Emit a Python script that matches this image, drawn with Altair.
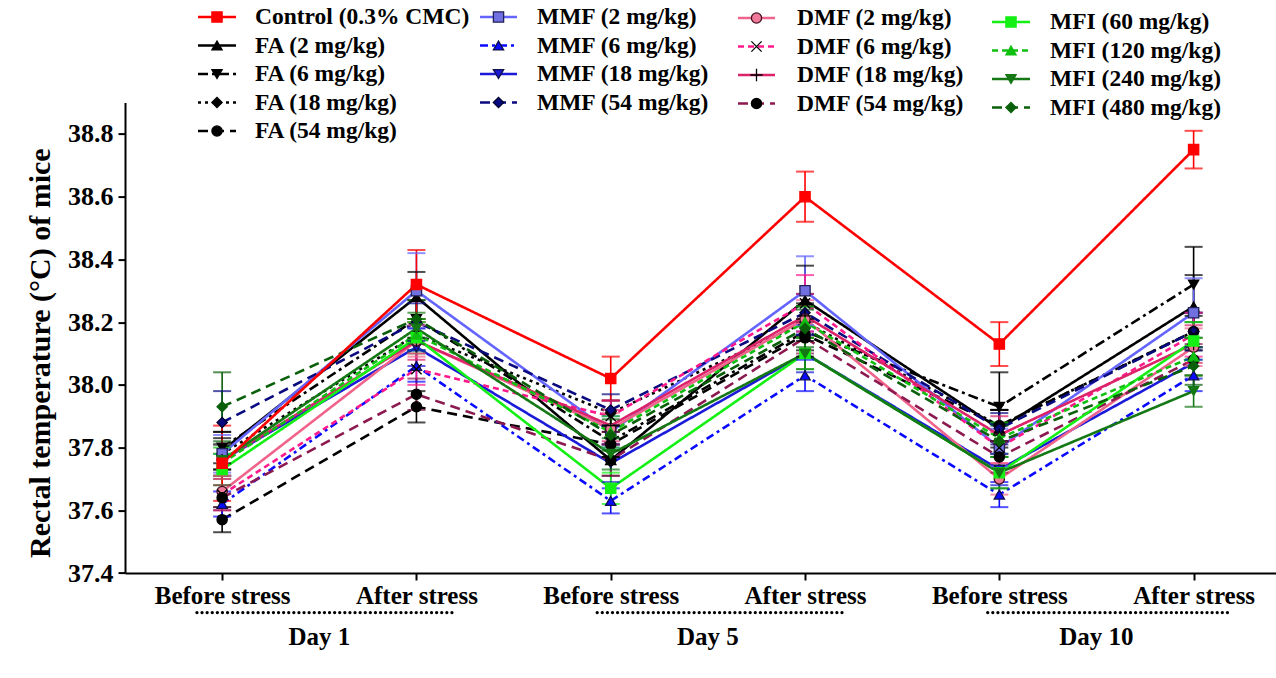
import json
import altair as alt
import pandas as pd

# ---------------- data ----------------
time_labels = ["Before stress", "After stress", "Before stress", "After stress", "Before stress", "After stress"]
day_labels = ["Day 1", "Day 5", "Day 10"]

series_names = [
    "Control (0.3% CMC)", "FA (2 mg/kg)", "FA (6 mg/kg)", "FA (18 mg/kg)", "FA (54 mg/kg)",
    "MMF (2 mg/kg)", "MMF (6 mg/kg)", "MMF (18 mg/kg)", "MMF (54 mg/kg)",
    "DMF (2 mg/kg)", "DMF (6 mg/kg)", "DMF (18 mg/kg)", "DMF (54 mg/kg)",
    "MFI (60 mg/kg)", "MFI (120 mg/kg)", "MFI (240 mg/kg)", "MFI (480 mg/kg)",
]

control_mean = [37.75, 38.32, 38.02, 38.60, 38.13, 38.75]
fa2_mean = [37.79, 38.28, 37.76, 38.27, 37.86, 38.25]
fa6_mean = [37.80, 38.21, 37.82, 38.17, 37.93, 38.32]
fa18_mean = [37.78, 38.16, 37.91, 38.20, 37.87, 38.17]
fa54_mean = [37.57, 37.93, 37.81, 38.16, 37.87, 38.17]
mmf2_mean = [37.78, 38.30, 37.85, 38.30, 37.80, 38.23]
mmf6_mean = [37.62, 38.06, 37.63, 38.03, 37.65, 38.03]
mmf18_mean = [37.76, 38.12, 37.75, 38.10, 37.73, 38.07]
mmf54_mean = [37.88, 38.20, 37.92, 38.23, 37.86, 38.17]
dmf2_mean = [37.66, 38.14, 37.86, 38.21, 37.70, 38.12]
dmf6_mean = [37.65, 38.05, 37.90, 38.26, 37.80, 38.16]
dmf18_mean = [37.76, 38.14, 37.87, 38.22, 37.84, 38.13]
dmf54_mean = [37.64, 37.97, 37.76, 38.15, 37.77, 38.08]
mfi60_mean = [37.73, 38.15, 37.67, 38.10, 37.72, 38.14]
mfi120_mean = [37.75, 38.16, 37.85, 38.20, 37.83, 38.09]
mfi240_mean = [37.76, 38.18, 37.78, 38.10, 37.72, 37.98]
mfi480_mean = [37.93, 38.21, 37.84, 38.18, 37.82, 38.06]

control_sem = [0.12, 0.11, 0.07, 0.08, 0.07, 0.06]
fa2_sem = [0.06, 0.08, 0.05, 0.11, 0.06, 0.10]
fa6_sem = [0.05, 0.06, 0.05, 0.08, 0.11, 0.12]
fa18_sem = [0.05, 0.05, 0.04, 0.06, 0.05, 0.06]
fa54_sem = [0.04, 0.05, 0.04, 0.05, 0.05, 0.05]
mmf2_sem = [0.06, 0.12, 0.05, 0.11, 0.06, 0.11]
mmf6_sem = [0.04, 0.05, 0.04, 0.05, 0.04, 0.05]
mmf18_sem = [0.05, 0.06, 0.06, 0.06, 0.05, 0.05]
mmf54_sem = [0.10, 0.06, 0.05, 0.06, 0.05, 0.06]
dmf2_sem = [0.05, 0.05, 0.05, 0.06, 0.05, 0.06]
dmf6_sem = [0.05, 0.05, 0.05, 0.09, 0.05, 0.07]
dmf18_sem = [0.05, 0.06, 0.05, 0.07, 0.06, 0.06]
dmf54_sem = [0.04, 0.05, 0.05, 0.05, 0.05, 0.05]
mfi60_sem = [0.05, 0.05, 0.05, 0.05, 0.05, 0.06]
mfi120_sem = [0.05, 0.05, 0.05, 0.05, 0.05, 0.06]
mfi240_sem = [0.05, 0.05, 0.05, 0.05, 0.05, 0.05]
mfi480_sem = [0.11, 0.06, 0.05, 0.06, 0.05, 0.06]

means = [control_mean, fa2_mean, fa6_mean, fa18_mean, fa54_mean,
         mmf2_mean, mmf6_mean, mmf18_mean, mmf54_mean,
         dmf2_mean, dmf6_mean, dmf18_mean, dmf54_mean,
         mfi60_mean, mfi120_mean, mfi240_mean, mfi480_mean]
sems = [control_sem, fa2_sem, fa6_sem, fa18_sem, fa54_sem,
        mmf2_sem, mmf6_sem, mmf18_sem, mmf54_sem,
        dmf2_sem, dmf6_sem, dmf18_sem, dmf54_sem,
        mfi60_sem, mfi120_sem, mfi240_sem, mfi480_sem]

# ---------------- styles ----------------
line_colors = ["#ff0000", "#000000", "#000000", "#000000", "#000000",
               "#6464ff", "#0a0aff", "#1a1ad8", "#0a0a80",
               "#f0648c", "#ff1a8c", "#dc2268", "#8c1a50",
               "#14f014", "#10c010", "#147814", "#0a600a"]
dashes = [[1, 0], [1, 0], [10, 4, 3, 4], [3, 4], [10, 6],
          [1, 0], [8, 4, 3, 4], [1, 0], [10, 6],
          [1, 0], [6, 4], [1, 0], [10, 6],
          [1, 0], [6, 4], [1, 0], [10, 6]]
xpath = "M-1,-1L1,1M-1,1L1,-1"
ppath = "M0,-1.2L0,1.2M-1.2,0L1.2,0"
shapes = ["square", "triangle-up", "triangle-down", "diamond", "circle",
          "square", "triangle-up", "triangle-down", "diamond",
          "circle", xpath, ppath, "circle",
          "square", "triangle-up", "triangle-down", "diamond"]
fills = ["#ff0000", "#000000", "#000000", "#000000", "#000000",
         "#7070e0", "#0a0aff", "#1a1ad8", "#0a0a80",
         "#f07898", "#000000", "#000000", "#000000",
         "#14f014", "#10c010", "#147814", "#0a600a"]
strokes = ["#ff0000", "#000000", "#000000", "#000000", "#000000",
           "#20205a", "#10104a", "#10104a", "#000030",
           "#401020", "#000000", "#000000", "#000000",
           "#14f014", "#10c010", "#147814", "#0a600a"]

# ---------------- tables ----------------
rows = []
draw_order = list(range(1, len(series_names))) + [0]
for k in draw_order:
    for t in range(6):
        m = means[k][t]
        s = sems[k][t]
        rows.append({"series": series_names[k], "t": t, "mean": m, "lo": m - s, "hi": m + s})
df = pd.DataFrame(rows)

# legend layout (page pixels -> plot coordinates)
left, top = 125, 102.6
col_defs = [(198, 236, 255, 0), (480, 517, 537, 0), (738, 775, 797, 1), (992, 1030, 1050, 5)]
groups = [series_names[0:5], series_names[5:9], series_names[9:13], series_names[13:17]]
leg_rows, leg_txt = [], []
for ci, names in enumerate(groups):
    x0, x1, xt, dy = col_defs[ci]
    for ri, name in enumerate(names):
        yy = 17 + ri * 28.5 + dy - top
        leg_rows.append({"series": name, "lx": x0 - left, "ly": yy, "end": 0})
        leg_rows.append({"series": name, "lx": x1 - left, "ly": yy, "end": 1})
        leg_txt.append({"series": name, "lx": xt - left, "ly": yy, "mx": (x0 + x1) / 2 - left})
leg_df = pd.DataFrame(leg_rows)
leg_txt_df = pd.DataFrame(leg_txt)

day_df = pd.DataFrame({"day": day_labels, "c": [0.5, 2.5, 4.5],
                       "a": [-0.13, 1.93, 3.94], "b": [1.2, 3.21, 5.19]})

# ---------------- scales ----------------
FONT = "Liberation Serif"
xs = alt.Scale(domain=[-0.5, 5.424], nice=False, zero=False)
ys = alt.Scale(domain=[37.4, 38.9], nice=False, zero=False)
color_s = alt.Scale(domain=series_names, range=line_colors)
dash_s = alt.Scale(domain=series_names, range=dashes)
shape_s = alt.Scale(domain=series_names, range=shapes)
fill_s = alt.Scale(domain=series_names, range=fills)
stroke_s = alt.Scale(domain=series_names, range=strokes)

label_expr = json.dumps(time_labels) + "[datum.value]"
x_enc = alt.X("t:Q", scale=xs, axis=alt.Axis(values=[0, 1, 2, 3, 4, 5], labelExpr=label_expr,
                                            title="", grid=False, labelPadding=3,
                                            labelFontSize=25))
y_enc = alt.Y("mean:Q", scale=ys,
              axis=alt.Axis(values=[37.4, 37.6, 37.8, 38.0, 38.2, 38.4, 38.6, 38.8], format=".1f",
                            title="Rectal temperature (°C) of mice", grid=False, titlePadding=12,
                            titleY=250, labelPadding=5, labelFontSize=26, titleFontSize=30))

base = alt.Chart(df)
lines = base.mark_line(strokeWidth=2.6).encode(
    x=x_enc, y=y_enc,
    color=alt.Color("series:N", scale=color_s, legend=None),
    strokeDash=alt.StrokeDash("series:N", scale=dash_s, legend=None),
)
err = base.mark_rule(strokeWidth=1.6).encode(
    x="t:Q", y="lo:Q", y2="hi:Q",
    color=alt.Color("series:N", scale=color_s, legend=None),
)
cap_lo = base.mark_tick(orient="horizontal", size=18, thickness=2).encode(
    x="t:Q", y="lo:Q", color=alt.Color("series:N", scale=color_s, legend=None))
cap_hi = base.mark_tick(orient="horizontal", size=18, thickness=2).encode(
    x="t:Q", y="hi:Q", color=alt.Color("series:N", scale=color_s, legend=None))
pts = base.mark_point(strokeWidth=1.3, opacity=1, fillOpacity=1, size=105).encode(
    x="t:Q", y="mean:Q",
    shape=alt.Shape("series:N", scale=shape_s, legend=None),
    fill=alt.Fill("series:N", scale=fill_s, legend=None),
    stroke=alt.Stroke("series:N", scale=stroke_s, legend=None),
)

# custom legend
leg_lines = alt.Chart(leg_df).mark_line(strokeWidth=2.6).encode(
    x=alt.X("lx:Q", scale=None), y=alt.Y("ly:Q", scale=None),
    color=alt.Color("series:N", scale=color_s, legend=None),
    strokeDash=alt.StrokeDash("series:N", scale=dash_s, legend=None),
    order="end:Q",
)
leg_pts = alt.Chart(leg_txt_df).mark_point(strokeWidth=1.3, opacity=1, fillOpacity=1, size=105).encode(
    x=alt.X("mx:Q", scale=None), y=alt.Y("ly:Q", scale=None),
    shape=alt.Shape("series:N", scale=shape_s, legend=None),
    fill=alt.Fill("series:N", scale=fill_s, legend=None),
    stroke=alt.Stroke("series:N", scale=stroke_s, legend=None),
)
leg_text = alt.Chart(leg_txt_df).mark_text(align="left", baseline="middle", font=FONT,
                                           fontWeight="bold", fontSize=23.5, color="black").encode(
    x=alt.X("lx:Q", scale=None), y=alt.Y("ly:Q", scale=None), text="series:N")

# day groups under the axis
dots = alt.Chart(day_df).mark_rule(strokeDash=[0.1, 5], strokeCap="round", strokeWidth=3.2,
                                   color="black").encode(
    x="a:Q", x2="b:Q", y=alt.value(510))
days = alt.Chart(day_df).mark_text(font=FONT, fontWeight="bold", fontSize=25, color="black",
                                   baseline="middle").encode(
    x="c:Q", y=alt.value(534), text="day:N")

chart = alt.layer(lines, err, cap_lo, cap_hi, pts, dots, days, leg_lines, leg_pts, leg_text).properties(
    width=1151, height=470.4, autosize="none", background="white",
    padding={"left": 125, "top": 102.6, "right": 0, "bottom": 105},
).configure_view(stroke="transparent").configure_axis(
    domainColor="black", domainWidth=2, tickColor="black", tickWidth=2, tickSize=7,
    labelFont=FONT, labelFontWeight="bold", labelFontSize=23, labelColor="black",
    titleFont=FONT, titleFontWeight="bold", titleFontSize=24, titleColor="black",
)

chart.save("out.html", embed_options={"renderer": "svg", "actions": False})
